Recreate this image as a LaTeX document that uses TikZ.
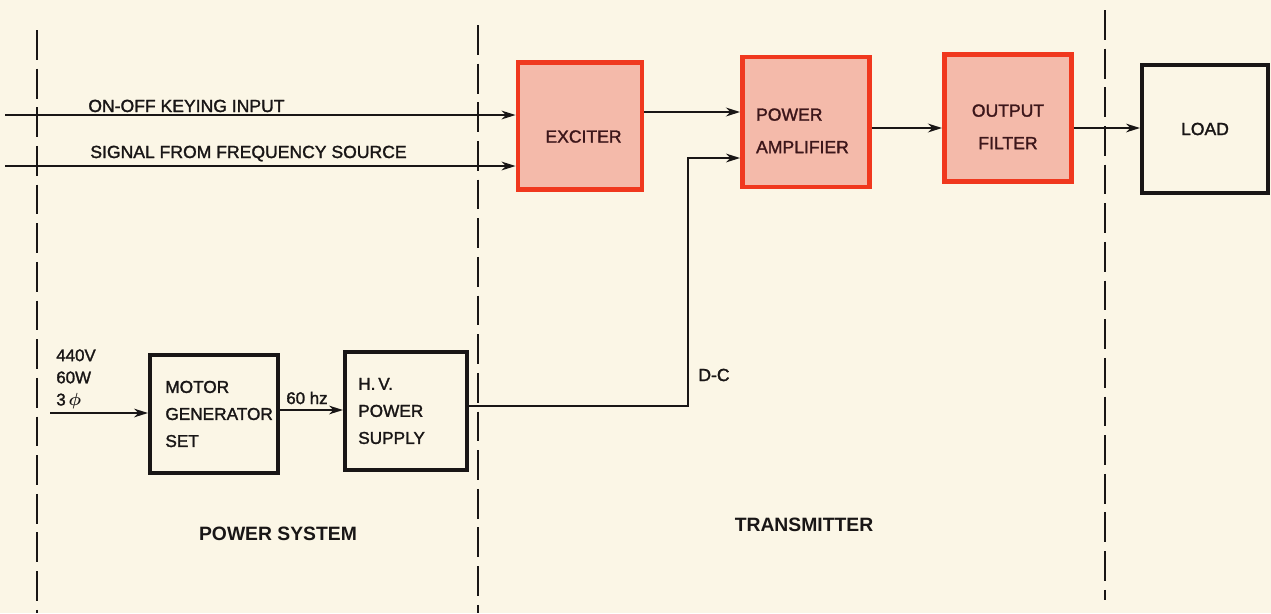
\documentclass[tikz,border=0pt]{standalone}
\usepackage{amsmath}
\usepackage{fontspec}
\setmainfont{Liberation Sans}[BoldFont={Liberation Sans},BoldFeatures={FakeBold=1.6}]
\newfontfamily\headfont{Liberation Sans Bold}
\usepackage{tikz}
\usetikzlibrary{arrows.meta,calc}
\definecolor{paper}{RGB}{251,246,230}
\definecolor{boxred}{RGB}{240,56,30}
\definecolor{boxpink}{RGB}{244,186,170}
\definecolor{ink}{RGB}{25,22,22}
\definecolor{maroon}{RGB}{60,22,26}
\tikzset{
  redbox/.style={draw=boxred,fill=boxpink,line width=2.8pt,inner sep=0pt},
  redtext/.style={text=maroon,align=left,font=\fontsize{10}{18.5}\bfseries\selectfont},
  blackbox/.style={draw=ink,line width=2.3pt,inner sep=0pt,text=ink,align=left,
    font=\fontsize{9.8}{15.4}\bfseries\selectfont},
  sig/.style={draw=ink,line width=1pt,-{Stealth[length=8pt,width=5pt]}},
  divider/.style={draw=ink,line width=1.1pt,dash pattern=on 17pt off 5pt},
  lbl/.style={text=ink,font=\fontsize{10}{12}\bfseries\selectfont,inner sep=0pt},
  seclbl/.style={text=ink,font=\fontsize{11}{13}\headfont\selectfont,inner sep=0pt}
}
\begin{document}
\begin{tikzpicture}[x=0.02cm,y=-0.02cm]
\fill[paper] (0,0) rectangle (1271,613);
\useasboundingbox (0,0) rectangle (1271,613);

% section borders
\draw[divider] (37,30) -- (37,613);
\draw[divider] (478,25) -- (478,613);
\draw[divider] (1105,10) -- (1105,600);

% transmitter chain
\node[redbox,minimum width=2.48cm,minimum height=2.54cm,
  label={[redtext,xshift=2pt,yshift=-6pt]center:EXCITER}] (exc) at (580,126) {};
\node[redbox,minimum width=2.54cm,minimum height=2.6cm,
  label={[redtext,xshift=-2pt,yshift=-5pt]center:POWER\\AMPLIFIER}] (pa) at (806,122) {};
\node[redbox,minimum width=2.54cm,minimum height=2.54cm,
  label={[redtext,align=center,yshift=-5pt]center:OUTPUT\\FILTER}] (of) at (1008,118) {};
\node[blackbox,minimum width=2.52cm,minimum height=2.56cm,font=\fontsize{10}{12}\bfseries\selectfont] (load) at (1205,129) {LOAD};

% power system
\node[blackbox,minimum width=2.56cm,minimum height=2.36cm] (mg) at (214,414) {\hspace*{3pt}\parbox{2.05cm}{MOTOR\\GENERATOR\\SET}};
\node[blackbox,minimum width=2.44cm,minimum height=2.36cm] (hv) at (406,411) {\hspace*{-6pt}\parbox{1.7cm}{H.\,V.\\POWER\\SUPPLY}};

% inputs
\coordinate (keyin) at (5,115);
\coordinate (freqin) at (5,166);
\coordinate (mains) at (50,413);
\draw[sig] (keyin) -- (keyin -| exc.west);
\draw[sig] (freqin) -- (freqin -| exc.west);
\node[lbl,anchor=base west] (keylbl) at (88,112) {ON-OFF KEYING INPUT};
\node[lbl,anchor=base west] (freqlbl) at (90,158) {SIGNAL FROM FREQUENCY SOURCE};

% rf path
\draw[sig,line width=1.5pt] (exc.east |- 0,112) -- (pa.west |- 0,112);
\draw[sig,line width=1.6pt] (pa.east |- 0,128) -- (of.west |- 0,128);
\draw[sig] (of.east |- 0,128) -- (load.west |- 0,128);

% power path
\draw[sig] (mains) -- (mains -| mg.west);
\node[lbl,anchor=north west,align=left,font=\fontsize{9.6}{12.6}\bfseries\selectfont] (mainslbl) at (56,349) {440V\\60W\\3\,$\boldsymbol{\phi}$};
\draw[sig] (mg.east |- 0,410) -- (hv.west |- 0,410);
\node[lbl,anchor=base west,font=\fontsize{9.6}{12}\bfseries\selectfont] (hzlbl) at (286,404) {60 hz};
\coordinate (dcbend) at (688,406);
\draw[sig] (hv.east |- 0,406) -- (dcbend) |- (pa.west |- 0,158);
\node[lbl] (dclbl) at (714,375) {D-C};

% section names
\node[seclbl] (pslbl) at (278,534) {POWER SYSTEM};
\node[seclbl] (txlbl) at (804,525) {TRANSMITTER};
\end{tikzpicture}
\end{document}
